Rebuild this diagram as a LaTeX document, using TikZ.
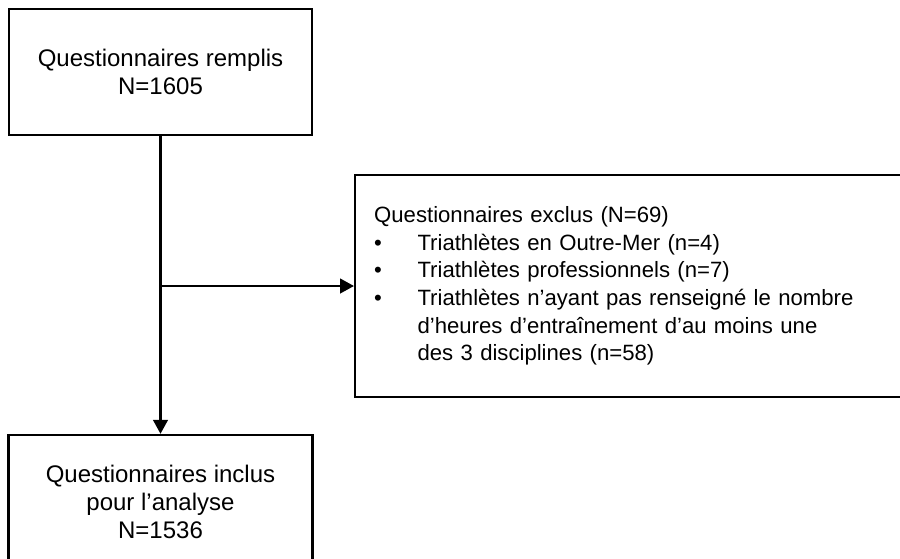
\documentclass[tikz,border=0pt]{standalone}
\usepackage{fontspec}
\setmainfont{Liberation Sans}
\usetikzlibrary{positioning,arrows.meta}

\newcommand{\puce}{\makebox[32.5pt][l]{\textbullet}}
\newcommand{\retrait}{\hspace*{32.5pt}}

\begin{document}
\begin{tikzpicture}[
    x=0.75pt, y=-0.75pt,
    boite/.style={draw, line width=1.8pt, align=center, inner sep=0pt,
        font=\fontsize{18}{21.2}\selectfont},
    >={Triangle[length=10.5pt, width=11pt]}
]
    \clip (0,0) rectangle (900,558);

    % Top box
    \node[boite, minimum width=227.25pt, minimum height=94.5pt] (remplis) at (160.5,72)
        {Questionnaires remplis\\N=1605};

    % Excluded (right, runs past the edge)
    \node[boite, anchor=west, align=left, text width=384.75pt, inner xsep=14.25pt,
        minimum height=166.5pt, font=\fontsize{16.6}{20.7}\selectfont] (exclus) at (354,286)
        {Questionnaires exclus (N=69)\\
         \puce Triathlètes en Outre-Mer (n=4)\\
         \puce Triathlètes professionnels (n=7)\\
         \puce Triathlètes n’ayant pas renseigné le nombre\\
         \retrait d’heures d’entraînement d’au moins une\\
         \retrait des 3 disciplines (n=58)};

    % Bottom box (cut at the bottom)
    \node[boite, minimum width=228pt, minimum height=100.5pt] (inclus) at (160.5,502)
        {Questionnaires inclus\\pour l’analyse\\N=1536};

    % Edges
    \coordinate (embranchement) at (remplis.south |- exclus.west);
    \draw[line width=1.8pt, ->] (remplis.south) -- (inclus.north);
    \draw[line width=1.8pt, ->] (embranchement) -- (exclus.west);
\end{tikzpicture}
\end{document}
